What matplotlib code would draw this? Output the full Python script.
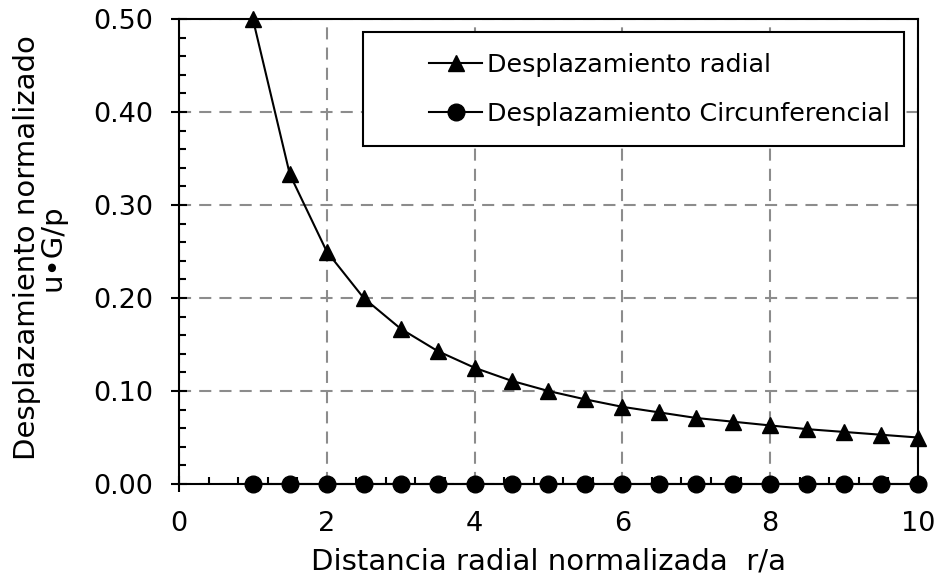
import matplotlib
matplotlib.use('Agg')
import matplotlib.pyplot as plt
from matplotlib.patches import Rectangle
from matplotlib.ticker import MultipleLocator, FormatStrFormatter

# DejaVu Sans is wide enough to match the stretched Arial of the original
plt.rcParams['font.family'] = ['DejaVu Sans']

# distancia radial normalizada r/a
r = [1.0, 1.5, 2.0, 2.5, 3.0, 3.5, 4.0, 4.5, 5.0, 5.5,
     6.0, 6.5, 7.0, 7.5, 8.0, 8.5, 9.0, 9.5, 10.0]
# desplazamiento radial u*G/p
u_rad = [0.500, 0.333, 0.250, 0.200, 0.167, 0.143, 0.125, 0.111, 0.100, 0.091,
         0.083, 0.077, 0.071, 0.067, 0.063, 0.059, 0.056, 0.053, 0.050]
# desplazamiento circunferencial
u_circ = [0.0, 0.0, 0.0, 0.0, 0.0, 0.0, 0.0, 0.0, 0.0, 0.0,
          0.0, 0.0, 0.0, 0.0, 0.0, 0.0, 0.0, 0.0, 0.0]

fig = plt.figure(figsize=(9.38, 5.78), dpi=100)
ax = fig.add_axes([0.1908, 0.1626, 0.7878, 0.8045])

ax.plot(r, u_rad, color='black', lw=1.5, marker='^', ms=12,
        clip_on=False, zorder=4, label='Desplazamiento radial')
ax.plot(r, u_circ, color='black', lw=1.5, marker='o', ms=12,
        clip_on=False, zorder=4, label='Desplazamiento Circunferencial')

ax.set_xlim(0, 10)
ax.set_ylim(0, 0.5)
ax.xaxis.set_major_locator(MultipleLocator(2))
ax.xaxis.set_minor_locator(MultipleLocator(0.4))
ax.yaxis.set_major_locator(MultipleLocator(0.1))
ax.yaxis.set_minor_locator(MultipleLocator(0.02))
ax.yaxis.set_major_formatter(FormatStrFormatter('%.2f'))

ax.tick_params(which='major', direction='inout', length=11.5, width=1.5,
               labelsize=19.5, color='black')
ax.tick_params(which='minor', direction='in', length=5, width=1.5)
ax.tick_params(axis='x', which='major', pad=13.5)
ax.tick_params(axis='y', which='major', pad=13)

for s in ax.spines.values():
    s.set_linewidth(1.5)
    s.set_color('black')

ax.grid(True, which='major', color='#8c8c8c', ls=(0, (5.8, 3.9)), lw=1.5)
ax.set_axisbelow(True)

fig.text(0.5848, 1 - 569 / 578, 'Distancia radial normalizada  r/a',
         fontsize=21, ha='center', va='baseline')
fig.text(0.0426, 0.572, 'Desplazamiento normalizado\nu\u2022G/p',
         fontsize=21, rotation=90, ha='center', va='center',
         multialignment='center', linespacing=0.9)

# legend box (wider than its content, as in the original)
box = Rectangle((0.249, 0.727), 0.732, 0.245, transform=ax.transAxes,
                facecolor='white', edgecolor='black', lw=1.5, zorder=5)
ax.add_patch(box)
leg = ax.legend(loc='center left', bbox_to_anchor=(0.3383, 0.848),
                fontsize=18.3, frameon=False, handlelength=2.1,
                handletextpad=0.2, borderpad=0, labelspacing=0.98,
                borderaxespad=0)
leg.set_zorder(6)

fig.savefig('out.png', dpi=100)
